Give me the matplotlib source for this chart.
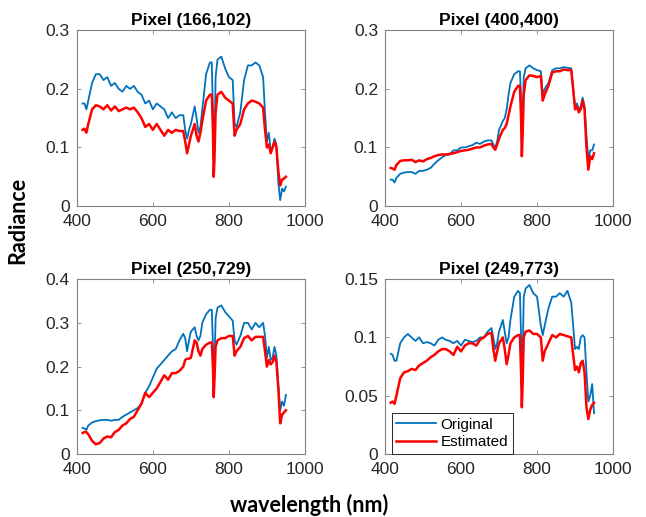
import matplotlib
matplotlib.use("Agg")
import matplotlib.pyplot as plt

# wavelength grid (nm), shared by all pixels
wl = [415, 420, 425, 430, 440, 450, 460, 470, 480, 490, 500, 510, 520, 530, 540, 550,
      560, 570, 580, 590, 600, 610, 620, 630, 640, 650, 660, 670, 680, 685, 690, 695,
      700, 710, 715, 720, 725, 730, 740, 750, 755, 758, 760, 762, 765, 770, 780, 790,
      800, 810, 815, 820, 830, 840, 850, 860, 870, 880, 890, 895, 900, 905, 910, 915,
      920, 925, 930, 935, 940, 945, 950]

titles = ["Pixel (166,102)", "Pixel (400,400)", "Pixel (250,729)", "Pixel (249,773)"]

orig_166_102 = [0.175, 0.175, 0.165, 0.18, 0.21, 0.225, 0.225, 0.215, 0.22, 0.205, 0.21, 0.2,
                0.195, 0.205, 0.2, 0.205, 0.195, 0.19, 0.175, 0.18, 0.165, 0.175, 0.17, 0.165,
                0.15, 0.16, 0.15, 0.155, 0.155, 0.13, 0.115, 0.13, 0.14, 0.17, 0.15, 0.125,
                0.135, 0.165, 0.225, 0.245, 0.245, 0.16, 0.08, 0.1, 0.22, 0.25, 0.255, 0.235,
                0.22, 0.215, 0.14, 0.135, 0.16, 0.215, 0.24, 0.24, 0.245, 0.24, 0.22, 0.16,
                0.11, 0.125, 0.095, 0.1, 0.115, 0.105, 0.04, 0.01, 0.03, 0.025, 0.033]
est_166_102 = [0.13, 0.132, 0.125, 0.14, 0.165, 0.172, 0.17, 0.165, 0.172, 0.163, 0.17, 0.162,
               0.165, 0.168, 0.165, 0.168, 0.16, 0.15, 0.135, 0.14, 0.13, 0.14, 0.13, 0.12,
               0.13, 0.125, 0.13, 0.128, 0.128, 0.11, 0.09, 0.105, 0.12, 0.14, 0.12, 0.11,
               0.125, 0.145, 0.18, 0.19, 0.19, 0.13, 0.05, 0.08, 0.16, 0.19, 0.195, 0.185,
               0.18, 0.175, 0.12, 0.13, 0.14, 0.165, 0.175, 0.18, 0.178, 0.175, 0.168, 0.13,
               0.1, 0.105, 0.09, 0.1, 0.11, 0.1, 0.06, 0.035, 0.045, 0.047, 0.05]

orig_400_400 = [0.045, 0.045, 0.04, 0.048, 0.055, 0.057, 0.058, 0.058, 0.055, 0.06, 0.06, 0.062,
                0.065, 0.072, 0.078, 0.083, 0.087, 0.088, 0.095, 0.095, 0.1, 0.1, 0.102, 0.104,
                0.108, 0.106, 0.11, 0.112, 0.112, 0.105, 0.1, 0.11, 0.13, 0.145, 0.15, 0.165,
                0.19, 0.21, 0.225, 0.23, 0.23, 0.18, 0.1, 0.15, 0.22, 0.235, 0.24, 0.235,
                0.232, 0.23, 0.19, 0.2, 0.21, 0.232, 0.235, 0.235, 0.237, 0.236, 0.235, 0.2,
                0.17, 0.175, 0.165, 0.17, 0.185, 0.17, 0.12, 0.08, 0.095, 0.095, 0.105]
est_400_400 = [0.065, 0.064, 0.062, 0.07, 0.077, 0.078, 0.078, 0.079, 0.075, 0.078, 0.076, 0.08,
               0.082, 0.085, 0.087, 0.088, 0.088, 0.089, 0.09, 0.092, 0.094, 0.095, 0.096, 0.098,
               0.1, 0.1, 0.103, 0.105, 0.106, 0.1, 0.096, 0.105, 0.115, 0.13, 0.133, 0.14,
               0.155, 0.17, 0.195, 0.205, 0.205, 0.15, 0.085, 0.12, 0.19, 0.215, 0.223, 0.222,
               0.22, 0.222, 0.18, 0.19, 0.205, 0.228, 0.23, 0.23, 0.233, 0.232, 0.232, 0.2,
               0.165, 0.17, 0.16, 0.165, 0.18, 0.165, 0.1, 0.062, 0.085, 0.08, 0.09]

orig_250_729 = [0.06, 0.058, 0.055, 0.065, 0.072, 0.075, 0.077, 0.078, 0.078, 0.076, 0.078, 0.078,
                0.085, 0.09, 0.095, 0.1, 0.105, 0.115, 0.14, 0.155, 0.175, 0.195, 0.205, 0.215,
                0.225, 0.235, 0.24, 0.26, 0.275, 0.265, 0.235, 0.26, 0.28, 0.29, 0.27, 0.26,
                0.27, 0.3, 0.32, 0.33, 0.33, 0.25, 0.15, 0.2, 0.31, 0.335, 0.34, 0.325,
                0.315, 0.305, 0.26, 0.25, 0.27, 0.3, 0.3, 0.285, 0.3, 0.29, 0.3, 0.27,
                0.22, 0.245, 0.215, 0.22, 0.245, 0.225, 0.16, 0.1, 0.12, 0.11, 0.135]
est_250_729 = [0.048, 0.05, 0.05, 0.045, 0.03, 0.022, 0.025, 0.035, 0.04, 0.038, 0.05, 0.055,
               0.065, 0.07, 0.08, 0.085, 0.1, 0.115, 0.14, 0.13, 0.14, 0.15, 0.165, 0.18,
               0.17, 0.185, 0.185, 0.19, 0.2, 0.215, 0.218, 0.218, 0.22, 0.26, 0.255, 0.235,
               0.225, 0.24, 0.25, 0.255, 0.255, 0.2, 0.13, 0.17, 0.245, 0.26, 0.265, 0.265,
               0.27, 0.27, 0.225, 0.235, 0.245, 0.265, 0.27, 0.26, 0.268, 0.268, 0.268, 0.235,
               0.2, 0.215, 0.205, 0.21, 0.225, 0.21, 0.15, 0.07, 0.09, 0.095, 0.1]

orig_249_773 = [0.086, 0.085, 0.08, 0.08, 0.095, 0.1, 0.103, 0.1, 0.097, 0.1, 0.095, 0.096,
                0.095, 0.093, 0.098, 0.1, 0.098, 0.097, 0.095, 0.097, 0.093, 0.098, 0.097, 0.096,
                0.097, 0.1, 0.1, 0.105, 0.108, 0.1, 0.09, 0.095, 0.105, 0.115, 0.105, 0.095,
                0.1, 0.115, 0.135, 0.14, 0.138, 0.1, 0.06, 0.08, 0.135, 0.142, 0.145, 0.138,
                0.135, 0.11, 0.102, 0.11, 0.125, 0.135, 0.135, 0.138, 0.135, 0.14, 0.13, 0.11,
                0.09, 0.092, 0.09, 0.1, 0.102, 0.1, 0.07, 0.045, 0.05, 0.06, 0.035]
est_249_773 = [0.044, 0.045, 0.043, 0.05, 0.065, 0.07, 0.071, 0.073, 0.072, 0.076, 0.078, 0.08,
               0.083, 0.085, 0.088, 0.09, 0.09, 0.088, 0.085, 0.092, 0.088, 0.093, 0.095, 0.095,
               0.093, 0.098, 0.1, 0.103, 0.104, 0.09, 0.08, 0.088, 0.095, 0.1, 0.09, 0.077,
               0.085, 0.095, 0.1, 0.102, 0.102, 0.07, 0.04, 0.06, 0.1, 0.105, 0.106, 0.103,
               0.103, 0.1, 0.08, 0.088, 0.095, 0.102, 0.1, 0.103, 0.102, 0.101, 0.1, 0.085,
               0.072, 0.075, 0.07, 0.078, 0.08, 0.07, 0.04, 0.03, 0.038, 0.042, 0.044]

original = [orig_166_102, orig_400_400, orig_250_729, orig_249_773]
estimated = [est_166_102, est_400_400, est_250_729, est_249_773]
ylims = [0.3, 0.3, 0.4, 0.15]
yticks = [[0, 0.1, 0.2, 0.3], [0, 0.1, 0.2, 0.3], [0, 0.1, 0.2, 0.3, 0.4], [0, 0.05, 0.1, 0.15]]
yticklabels = [["0", "0.1", "0.2", "0.3"], ["0", "0.1", "0.2", "0.3"],
               ["0", "0.1", "0.2", "0.3", "0.4"], ["0", "0.05", "0.1", "0.15"]]

plt.rcParams['font.family'] = ['Liberation Sans', 'DejaVu Sans']

fig = plt.figure(figsize=(6.46, 5.17), dpi=100)
positions = [[0.119, 0.6015, 0.353, 0.340], [0.596, 0.6015, 0.353, 0.340],
             [0.119, 0.122, 0.353, 0.338], [0.596, 0.122, 0.353, 0.338]]

for i in range(4):
    ax = fig.add_axes(positions[i])
    ax.plot(wl, original[i], color='#0072BD', linewidth=1.3, label='Original')
    ax.plot(wl, estimated[i], color='#FF0000', linewidth=1.8, label='Estimated')
    ax.set_xlim(400, 1000)
    ax.set_ylim(0, ylims[i])
    ax.set_xticks([400, 600, 800, 1000])
    ax.set_yticks(yticks[i])
    ax.set_yticklabels(yticklabels[i])
    ax.tick_params(direction='in', length=3, width=0.6, top=True, right=True,
                   labelsize=12.5, colors='#808080', labelcolor='#262626')
    ax.tick_params(axis='x', pad=6)
    ax.tick_params(axis='y', pad=5)
    for s in ax.spines.values():
        s.set_color('#808080')
        s.set_linewidth(0.8)
    ax.set_title(titles[i], fontsize=12.5, fontweight='bold', pad=4)
    if i == 3:
        leg = ax.legend(loc='lower left', bbox_to_anchor=(0.03, 0.0), borderaxespad=0,
                        fontsize=11, fancybox=False, framealpha=1, handlelength=2.6,
                        handletextpad=0.3, borderpad=0.3, labelspacing=0.25)
        leg.get_frame().set_edgecolor('#262626')
        leg.get_frame().set_linewidth(0.7)

fig.text(0.027, 0.574, 'Radiance', rotation=90, ha='center', va='center',
         fontsize=15.5, fontweight='bold', family=['Lato', 'DejaVu Sans'])
fig.text(0.478, 0.023, 'wavelength (nm)', ha='center', va='center',
         fontsize=15.5, fontweight='bold', family=['Lato', 'DejaVu Sans'])

fig.savefig('out.png', dpi=100)
